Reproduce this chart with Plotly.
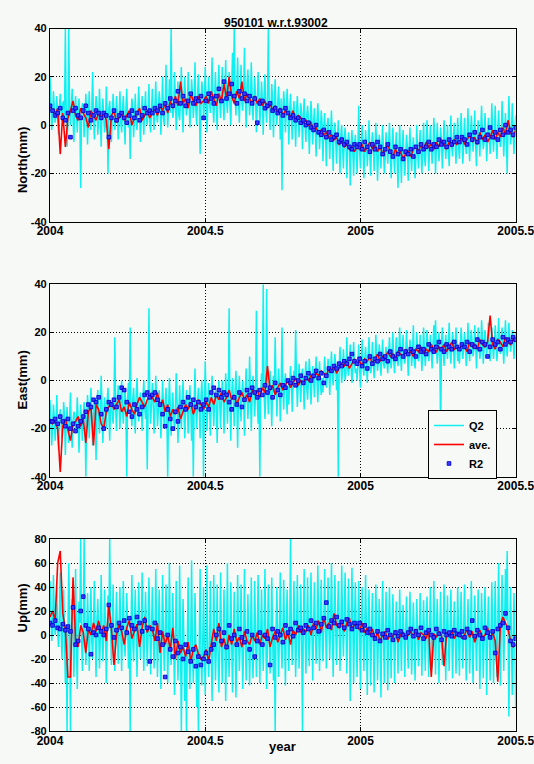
import numpy as np
import plotly.graph_objects as go

# ---------------------------------------------------------------------------
# GPS baseline components of station 950101 relative to 93002 (mm)
# Q2: quick-look solutions (two sub-daily sessions, "peak" and "mid" samples),
# ave.: running average, R2: final daily solutions
# ---------------------------------------------------------------------------
T_START, T_END = 2004.0, 2005.5

north_q2_peak = [
    20, -2, 14, 1, 12, -4, 13, 2, 10, 40, -9, 40, 0, 15, -7, 12, -3, 11, -26, 9,
    -5, 13, -8, 14, -2, 22, -6, 12, -4, 15, -9, 11, -3, 16, -20, 10, -7, 13, -2, 12,
    -6, 14, -3, 12, -8, 15, -1, -14, 11, -5, 13, -2, 16, -7, 12, -4, 14, 0, 17, -3,
    15, -2, 18, 1, 14, -4, 20, 0, 25, -1, 19, 40, 3, 22, -2, 18, 2, 24, -3, 20,
    4, 22, -1, 19, 3, 26, 0, 21, -12, 18, 2, 24, -3, 20, 5, 28, 1, 22, -2, 25,
    3, 24, 2, 27, 5, 22, 0, 30, 40, 4, 28, 1, 25, 6, 32, -1, 23, 4, 26, 2,
    20, -3, 22, 0, 18, -4, 21, 1, 40, -2, 17, -5, 19, 0, 16, -6, -27, 14, -3, 15,
    -8, 13, -6, 10, -9, 12, -5, 9, -10, 11, -7, 8, -12, 10, -8, 7, -13, 9, -10, 6,
    -15, 5, -17, 3, -14, 6, -19, 1, -16, 2, -20, 0, -18, -1, -22, -3, -25, -2, -21, -4,
    -20, 8, -18, 0, -22, -2, -17, 2, -21, -3, -19, 1, -23, -4, -18, 0, -20, -3, -16, 1,
    -22, -1, -20, -3, -26, 0, -24, -2, -21, -4, -23, -1, -19, -5, -22, 0, -18, -2, -20, 1,
    -17, 2, -19, 0, -16, 3, -20, 1, -15, -1, -18, 2, -14, 0, -17, 4, -13, 1, -16, 3,
    -14, 5, -16, 3, -12, 7, -15, 4, -11, 6, -17, 2, -13, 8, -10, 5, -15, 3, -12, 9,
    -11, 8, -14, 6, -9, 10, -13, 5, -20, 12, -8, 9, -12, 4,
]
north_q2_mid = [
    6, 3, 8, 4, 2, 7, 5, 9, 3, 6, 1, 5, 8, 2, 6, 4, 7, 3, 5, 8,
    2, 6, 4, 1, 7, 3, 5, 8, 2, 4, 6, 3, 0, 5, 7, 2, 4, 6, 3, 5,
    4, 1, 6, 3, 7, 2, 5, 4, 8, 3, 1, 5, 6, 2, 4, 7, 3, 5, 2, 6,
    5, 8, 4, 7, 9, 6, 3, 8, 10, 7, 5, 9, 6, 11, 8, 4, 10, 7, 12, 9,
    8, 11, 7, 13, 9, 6, 12, 10, 8, 14, 9, 11, 7, 10, 13, 8, 12, 9, 15, 10,
    12, 9, 14, 10, 13, 8, 15, 11, 12, 16, 10, 13, 9, 14, 11, 17, 12, 10, 13, 11,
    11, 9, 13, 8, 10, 12, 7, 11, 9, 6, 10, 8, 5, 9, 7, 11, 6, 8, 5, 7,
    6, 3, 5, 2, 6, 4, 1, 5, 3, 0, 4, 2, -1, 3, 1, -2, 2, 0, -3, 1,
    -2, -4, 0, -5, -3, -6, -2, -7, -5, -8, -4, -9, -6, -8, -10, -7, -9, -11, -8, -10,
    -9, -11, -7, -10, -12, -8, -10, -13, -9, -7, -11, -10, -12, -8, -9, -11, -13, -10, -8, -12,
    -10, -12, -9, -14, -11, -13, -10, -15, -12, -9, -11, -13, -10, -12, -14, -11, -9, -12, -10, -13,
    -9, -7, -10, -8, -11, -6, -9, -8, -10, -7, -9, -6, -8, -10, -7, -9, -5, -8, -6, -9,
    -7, -5, -8, -6, -4, -7, -5, -3, -6, -8, -4, -6, -2, -5, -7, -4, -6, -3, -5, -4,
    -3, -5, -2, -4, -6, -1, -3, -5, -2, 0, -4, -3, -1,
]
north_ave = [
    8, 6, 4, 7, -12, 5, -9, 3, 6, 10, 4, 2, 7, 5, 3, -1, 6, 4, 2, 5,
    3, 5, 2, -10, 4, 6, 1, 3, 5, 2, 4, 6, 0, 3, 5, 7, 2, 4, 6, 3,
    5, 7, 4, 8, 6, 9, 5, 10, 7, 12, 8, 18, 9, 11, 7, 13, 10, 8, 12, 9,
    10, 12, 9, 14, 11, 8, 13, 10, 17, 11, 20, 12, 9, 14, 11, 18, 10, 13, 11, 9,
    12, 9, 11, 8, 10, 7, 9, 6, 8, 5, 7, 4, 6, 5, 3, 6, 2, 4, 3, 1,
    2, 0, 1, -2, -1, -3, -2, -4, -3, -5, -4, -6, -5, -8, -7, -9, -8, -10, -9, -11,
    -9, -10, -8, -11, -9, -7, -10, -8, -11, -9, -12, -10, -8, -11, -13, -10, -12, -11, -14, -12,
    -11, -13, -10, -9, -11, -8, -10, -7, -9, -8, -10, -7, -9, -6, -8, -10, -7, -9, -6, -8,
    -7, -5, -8, -6, -4, -7, -5, -8, -3, -6, -4, -7, -5, -2, -6, -3, -5, -1, -4, 2,
    -3, -5, -2,
]
north_r2 = [
    8, 6, 4, 5, 7, 3, 2, 5, -5, 6, 7, 4, 3, 6, 8, 5, 2, 4, 6, 5,
    3, 5, 4, -5, 3, 6, 2, 4, 5, 3, 1, 4, 6, 3, 5, 2, 4, 7, 5, 6,
    5, 7, 6, 8, 5, 9, 7, 11, 8, 10, 14, 9, 12, 8, 10, 13, 9, 11, 10, 12,
    3, 10, 13, 11, 9, 12, 15, 10, 18, 11, 13, 17, 12, 9, 14, 11, 13, 10, 12, 9,
    11, 1, 9, 10, 7, 8, 9, 6, 7, 5, 6, 4, 7, 5, 3, 4, 2, 3, 1, 2,
    0, 1, -1, -2, 0, -3, -4, -2, -5, -3, -6, -5, -4, -7, -6, -8, -7, -9, -10, -8,
    -9, -8, -10, -7, -9, -11, -8, -10, -7, -9, -12, -10, -8, -11, -13, -9, -12, -10, -14, -11,
    -12, -10, -13, -9, -11, -8, -10, -9, -7, -10, -8, -9, -6, -8, -7, -9, -6, -8, -7, -5,
    -7, -5, -6, -8, -4, -6, -3, -7, -5, -2, -6, -4, -1, -5, -3, -6, -2, -4, 0, -3,
    -2, -4, -1,
]

east_q2_peak = [
    -8, -27, -10, -25, -6, -29, -12, -24, -9, -31, -11, -26, -5, -28, -13, -22, -7, -30, -10, -25,
    -9, -40, -6, -24, -3, -27, -8, -33, -4, -22, 2, -26, -7, -20, -3, -25, -9, -18, 18, -21,
    -2, -20, 0, -18, -4, -40, -1, 22, -19, -3, -22, 1, -17, -5, -21, 0, -16, -37, 30, -18,
    -1, -22, 2, -19, -4, -24, 0, -20, -3, -40, 1, -23, -5, -21, 3, -26, -2, -20, 0, -24,
    -4, -22, -2, -25, -40, 5, -20, -3, -24, 0, -40, 8, -21, -1, -23, 2, -19, -4, -26, 0,
    -20, 0, -22, 3, -18, 30, -25, 1, -19, 4, -28, 2, -17, 0, -23, 5, -16, 10, -21, 2,
    -15, 29, -18, -40, 3, 40, -16, 38, -14, 4, -19, 2, 18, -15, 5, -17, 22, -12, 3, -14,
    -10, 6, -13, 4, 21, -11, 7, -9, 5, -12, 8, -8, 9, -10, 6, -7, 10, -9, 8, -6,
    -5, 10, -3, 9, -6, 12, -2, 11, -4, -40, 14, -1, 13, 0, 18, 2, 15, -1, 16, 3,
    0, 15, -3, 17, 2, 14, -1, 18, 3, 16, 1, 19, 4, 15, 2, 17, 5, 14, 3, 18,
    5, 20, 3, 18, 6, 22, 4, 19, 7, 21, 2, 17, 6, 23, 5, 20, 8, 19, 4, 22,
    6, 21, 8, 19, 5, 23, 25, 7, 20, -23, 22, 6, 19, 9, 24, 7, 20, 5, 22, 8,
    7, 22, 9, 20, 6, 24, 8, 21, 10, 23, 5, 22, 9, 25, 7, 21, 11, 24, 8, 22,
    9, 23, 8, 26, 11, 22, 7, 25, 10, 24, 12, 21, 9, 20,
]
east_q2_mid = [
    -16, -19, -15, -18, -20, -16, -17, -21, -15, -18, -19, -16, -20, -17, -14, -18, -16, -19, -17, -15,
    -14, -17, -13, -15, -12, -16, -14, -11, -15, -13, -10, -14, -12, -9, -13, -11, -14, -10, -12, -9,
    -11, -8, -12, -9, -13, -7, -10, -12, -8, -11, -6, -9, -12, -10, -7, -11, -9, -13, -8, -10,
    -9, -12, -8, -13, -10, -14, -11, -9, -15, -12, -10, -13, -16, -11, -9, -14, -12, -10, -13, -11,
    -11, -9, -12, -8, -10, -13, -9, -11, -7, -10, -12, -8, -11, -9, -6, -10, -8, -11, -7, -9,
    -8, -6, -9, -5, -8, -10, -6, -7, -4, -8, -6, -9, -5, -7, -3, -6, -8, -5, -7, -4,
    -5, -7, -4, -6, -3, -5, -7, -2, -4, -6, -3, -5, -1, -4, -2, -5, -3, -1, -4, -2,
    -2, 0, -3, -1, 1, -2, 0, 2, -1, 1, -3, 0, 2, -1, 1, 3, 0, 2, -1, 1,
    2, 4, 1, 3, 5, 2, 4, 6, 3, 5, 7, 4, 6, 3, 5, 8, 6, 4, 7, 5,
    7, 5, 8, 6, 9, 7, 10, 8, 6, 9, 7, 10, 8, 11, 9, 7, 10, 8, 11, 9,
    10, 8, 11, 9, 12, 10, 13, 9, 11, 12, 10, 13, 11, 9, 12, 14, 10, 12, 11, 13,
    12, 14, 11, 13, 15, 12, 14, 11, 13, 16, 12, 14, 13, 15, 12, 14, 16, 13, 15, 12,
    14, 16, 13, 15, 12, 14, 17, 15, 13, 16, 14, 15, 13, 17, 14, 16, 15, 13, 16, 14,
    15, 17, 14, 16, 18, 15, 17, 14, 16, 18, 15, 17, 16,
]
east_ave = [
    -16, -18, -17, -20, -38, -19, -16, -21, -25, -18, -17, -15, -19, -16, -26, -13, -11, -27, -10, -12,
    -18, -20, -13, -11, -9, -12, -10, -8, -13, -11, -15, -9, -12, -14, -10, -7, -9, -11, -8, -6,
    -7, -9, -5, -11, -8, -13, -10, -15, -12, -14, -11, -16, -13, -10, -12, -9, -14, -11, -8, -10,
    -12, -9, -11, -7, -10, -6, -8, -5, -9, -7, -4, -8, -6, -10, -7, -5, -8, -6, -9, -4,
    -6, -4, -7, -3, -5, 6, -4, -2, -6, -3, -1, -4, -2, 0, -3, -1, 1, -2, 0, -1,
    1, 0, 2, 1, 3, 2, 4, 3, 2, 5, 4, 6, 3, 5, 7, 6, 8, 5, 7, 9,
    7, 8, 6, 9, 8, 10, 7, 9, 11, 8, 10, 9, 12, 10, 11, 9, 12, 11, 10, 13,
    11, 12, 10, 13, 12, 14, 11, 13, 12, 15, 13, 12, 14, 13, 15, 12, 14, 16, 13, 14,
    13, 15, 14, 12, 16, 14, 15, 13, 17, 15, 14, 16, 27, 15, 13, 17, 16, 14, 18, 16,
    15, 17, 16,
]
east_r2 = [
    -17, -17, -16, -18, -15, -17, -19, -16, -20, -18, -21, -19, -17, -15, -13, -10, -11, -8, -9, -7,
    -14, -20, -12, -9, -10, -8, -11, -7, -3, -4, -9, -13, -15, -10, -12, -14, -11, -6, -5, -7,
    -6, -5, -8, -10, -14, -19, -12, -16, -20, -13, -17, -11, -9, -12, -7, -10, -8, -11, -9, -12,
    -10, -8, -12, -5, -3, -6, -4, -7, -5, -6, -9, -12, -7, -10, -5, -11, -8, -4, -6, -3,
    -5, -7, -4, -6, -2, -5, -3, -7, -1, -4, -6, -2, -3, 0, -1, 1, -2, 0, 2, -1,
    1, 3, 0, 2, 4, 1, 3, -1, 2, 5, 4, 6, 5, 7, 6, 8, 7, 9, 11, 8,
    7, 9, 6, 8, 5, 10, 7, 9, 8, 11, 9, 10, 8, 12, 10, 9, 11, 13, 10, 12,
    11, 13, 12, 10, 14, 12, 13, 11, 15, 13, 12, 14, 16, 13, 12, 15, 14, 13, 16, 14,
    13, 15, 14, 16, 12, 15, 14, 17, 13, 16, 15, 10, 14, 17, 15, 16, 13, 18, 15, 17,
    16, 18, 17,
]

up_q2_peak = [
    45, -5, 50, 0, 40, -10, 52, -20, 38, -40, -80, 60, -80, 30, -35, 55, -45, 28, 80, -30,
    80, -25, 35, -30, 40, -20, 45, -35, 30, -28, 50, -22, 38, -40, 33, 80, -25, 42, -30, 36,
    -24, 40, -30, 45, -18, 35, -28, -80, 50, -22, 38, -35, 44, -20, 52, -30, 36, -26, 48, -33,
    40, -28, 55, -35, 38, -45, 50, -30, 42, -40, 60, -25, 35, -50, 45, -38, 58, -80, 30, -55,
    -80, 48, -45, 62, -40, 35, -60, -80, 55, -42, 40, -50, 58, -35, 45, -55, 50, -38, 42, -48,
    52, -40, 38, -55, 60, -35, 44, -48, 36, -52, 50, -30, 42, -45, 55, -38, 34, -42, 48, -36,
    45, -35, 50, -40, 38, -30, 55, -45, 42, -32, 48, -38, -80, 40, -35, 52, -28, 46, -42, 38,
    -30, 80, -25, 45, -35, 50, -28, 42, -80, 55, -32, 48, -26, 52, -38, 44, -24, 58, -30, 46,
    -22, 55, -28, 48, -20, 60, -35, 50, -25, 45, -30, 58, -18, 52, -32, 47, -55, 56, -40, 44,
    -35, 45, -45, 40, -30, 50, -50, 38, -42, 35, -48, 42, -38, 30, -52, 45, -40, 36, -46, 40,
    -36, 34, -40, 28, -32, 38, -30, 25, -35, 32, -28, 36, -33, 27, -38, 30, -26, 35, -34, 29,
    -30, 32, -35, 40, -28, 45, -33, 30, -40, 36, -25, 42, -38, 33, -30, 38, -36, 28, -32, 40,
    -34, 36, -28, 42, -38, 30, -32, 45, -40, 33, -30, 38, -45, 35, -36, 40, -50, 32, -38, 44,
    -40, 45, -35, 60, -42, 50, -30, 55, 70, -68, 40, -50, 35, -60,
]
up_q2_mid = [
    12, 5, 18, 8, 2, 15, 6, 10, -2, 8, 0, 12, -5, 6, 3, -8, 5, 10, -3, 4,
    6, -2, 10, 3, -5, 8, 0, 12, 4, -3, 7, 1, 10, -4, 5, 9, 2, -6, 6, 3,
    8, 2, 12, -1, 6, 10, 3, 7, -4, 9, 5, 1, 11, 4, -2, 8, 6, 0, 10, 3,
    2, -4, 5, -1, 3, -6, 0, -3, 4, -8, -2, 1, -7, -4, 2, -9, -5, -10, -3, -12,
    -8, -14, -6, -11, -15, -9, -12, -5, -16, -10, -13, -7, -11, -14, -8, -12, -6, -10, -15, -9,
    -4, -8, -2, -7, -10, -3, -6, -1, -9, -5, -2, -8, -4, -7, 0, -6, -3, -9, -1, -5,
    -2, 1, -5, 0, -3, 3, -1, -6, 2, -4, 0, -2, 4, -3, 1, -5, 2, -1, 3, 0,
    2, 5, 0, 4, -2, 6, 3, 1, 7, 2, 5, -1, 4, 8, 3, 6, 1, 5, 9, 4,
    6, 10, 8, 4, 11, 7, 9, 5, 12, 8, 6, 10, 13, 7, 9, 11, 6, 10, 8, 5,
    6, 3, 8, 1, 5, 2, 7, -1, 4, 0, 3, 6, -2, 2, 5, -1, 3, 0, 4, 1,
    0, 3, -2, 2, -4, 1, 4, -1, 2, -3, 0, 3, -2, 1, -4, 2, 0, -1, 3, -2,
    1, -2, 3, 0, -3, 2, 4, -1, 1, -4, 2, 0, 3, -2, 1, 4, -1, 2, -3, 0,
    2, -1, 3, 0, -2, 4, 1, -3, 2, 5, 0, -2, 3, 1, -4, 2, 4, 0, -1, 3,
    4, 1, 6, 3, 8, 5, 10, 12, 6, 2, -3, -6, -8,
]
up_ave = [
    15, 20, 12, 60, 70, 18, 5, -35, -35, 48, -5, -10, 8, 2, -15, 5, 0, 10, 3, 12,
    2, 8, -5, 25, 5, -25, 0, 10, 3, -8, 6, 12, -3, 4, 9, -10, 6, 15, 2, 8,
    5, -5, 10, -15, 3, -8, 0, -12, 6, -20, -5, -15, -10, -18, -6, -22, -12, -8, -16, -20,
    -18, -12, -22, -8, 5, -5, 10, -10, -3, -12, 0, -8, 5, -6, -2, -10, 3, -5, -8, 0,
    -5, 2, -8, 0, -3, 5, -10, -2, 3, -6, 0, 6, -4, 2, -8, 4, 0, 8, 2, 5,
    3, 8, 0, 10, 5, 12, 2, 15, 6, 10, 4, 18, 8, 6, 12, 3, 10, 14, 5, 9,
    8, 4, 10, 2, 6, 0, 5, -3, 2, -5, 0, 3, -4, 1, -2, 4, -6, 0, 2, -3,
    0, 3, -2, 5, -4, 2, 0, -3, 4, -35, 1, -2, 3, 0, -26, 2, -1, 4, -3, 1,
    2, -3, 0, 5, -2, 3, -6, 1, 4, -2, 0, 6, -3, 2, -5, -39, 8, 15, 10, 5,
    -5, -10, -8,
]
up_r2 = [
    10, 8, 12, 6, 5, 9, 4, 7, 3, 23, -8, -5, 20, 32, 8, 5, -16, 2, 0, 6,
    3, 0, 5, 25, 8, -2, 4, 10, 6, 12, 2, 14, 8, 5, 15, 10, 3, 12, 6, -22,
    5, 10, -3, 2, -8, -35, 0, -12, -18, -5, -15, -10, -20, -8, -14, -22, -12, -26, -18, -25,
    -20, -15, -22, -12, -8, 0, 5, -5, 2, -10, 8, -3, 0, -8, 5, -2, -6, 3, -12, 0,
    -18, -5, 2, -8, 0, -3, -25, 5, -2, 3, 0, -6, 8, 2, 5, -1, 10, 4, 6, 2,
    8, 5, 12, 6, 10, 3, 9, 14, 27, 7, 12, 10, 15, 8, 11, 6, 13, 9, 5, 10,
    7, 10, 4, 8, 2, 5, 0, -3, 3, -5, 1, -2, 4, 0, -4, 2, -1, 3, 0, -2,
    2, 5, -1, 3, 0, 6, -3, 2, 4, 0, -2, 5, 1, -4, 3, 0, 2, -1, 4, 1,
    0, 3, -2, 5, 2, 12, -1, 4, 0, -3, 6, 2, -2, 3, -15, 5, 8, 10, 18, 6,
    -5, -8, -3,
]

panel_titles = ["North(mm)", "East(mm)", "Up(mm)"]
panel_ranges = [(-40, 40), (-40, 40), (-80, 80)]
panel_yticks = [
    [-40, -20, 0, 20, 40],
    [-40, -20, 0, 20, 40],
    [-80, -60, -40, -20, 0, 20, 40, 60, 80],
]
x_ticks = [2004, 2004.5, 2005, 2005.5]
x_ticklabels = ["2004", "2004.5", "2005", "2005.5"]


def merge_sessions(peak, mid):
    """Merge the two Q2 session streams into one time-ordered series."""
    out = []
    for k in range(max(len(peak), len(mid))):
        if k < len(peak):
            out.append(peak[k])
        if k < len(mid):
            out.append(mid[k])
    return out


series = [
    (merge_sessions(north_q2_peak, north_q2_mid), north_ave, north_r2),
    (merge_sessions(east_q2_peak, east_q2_mid), east_ave, east_r2),
    (merge_sessions(up_q2_peak, up_q2_mid), up_ave, up_r2),
]

# ---------------------------------------------------------------------------
W, H = 534, 764
BG = "#f6f9f6"
FONT = "Liberation Sans"
LEFT, RIGHT = 50, 515.7
panel_px = [(28.5, 221.7), (284.3, 476.7), (539, 731)]   # top, bottom in px

fig = go.Figure()
layout = dict(
    width=W, height=H,
    margin=dict(l=0, r=0, t=0, b=0),
    paper_bgcolor=BG, plot_bgcolor=BG,
    font=dict(family=FONT, size=12, color="black", weight="bold"),
    showlegend=True,
)

for i, ((q2, ave, r2), title, yr, yt) in enumerate(
        zip(series, panel_titles, panel_ranges, panel_yticks)):
    n = i + 1
    xref = "x" if n == 1 else f"x{n}"
    yref = "y" if n == 1 else f"y{n}"
    show = (n == 2)

    t_q2 = np.linspace(T_START, T_END, len(q2))
    t_ave = np.linspace(T_START, T_END, len(ave))
    t_r2 = np.linspace(T_START, T_END, len(r2))

    fig.add_trace(go.Scatter(
        x=t_q2, y=q2, mode="lines", name="Q2", xaxis=xref, yaxis=yref,
        line=dict(color="#10f0f0", width=1.5), showlegend=show,
        legendrank=1))
    fig.add_trace(go.Scatter(
        x=t_ave, y=ave, mode="lines", name="ave.", xaxis=xref, yaxis=yref,
        line=dict(color="#ff0000", width=1.6), showlegend=show,
        legendrank=2))
    fig.add_trace(go.Scatter(
        x=t_r2, y=r2, mode="markers", name="R2", xaxis=xref, yaxis=yref,
        marker=dict(symbol="square", size=3.6, color="#3a3aff",
                    line=dict(width=0.9, color="#0000d0")),
        showlegend=show, legendrank=3))

    top, bot = panel_px[i]
    axis_common = dict(
        showline=True, linecolor="black", linewidth=1.3, mirror="ticks",
        ticks="inside", ticklen=4, tickcolor="black", tickwidth=1,
        showgrid=True, gridcolor="black", gridwidth=1, griddash="1px,2px",
        zeroline=False, automargin=False,
    )
    layout["xaxis" if n == 1 else f"xaxis{n}"] = dict(
        axis_common, domain=[LEFT / W, RIGHT / W], range=[T_START, T_END],
        anchor=yref, tickvals=x_ticks, ticktext=x_ticklabels,
        ticklabelstandoff=-2, ticklabeloverflow="allow",
        tickfont=dict(family=FONT, size=12, color="black", weight="bold"),
    )
    layout["yaxis" if n == 1 else f"yaxis{n}"] = dict(
        axis_common, domain=[1 - bot / H, 1 - top / H], range=list(yr),
        anchor=xref, tickvals=yt, ticktext=[str(v) for v in yt],
        ticklabeloverflow="allow",
        tickfont=dict(family=FONT, size=11, color="black", weight="bold"),
    )

annotations = [
    dict(text="950101 w.r.t.93002", x=276 / W, y=1 - 14 / H,
         xref="paper", yref="paper", showarrow=False,
         font=dict(family=FONT, size=12, weight="bold")),
    dict(text="year", x=282 / W, y=1 - 756 / H,
         xref="paper", yref="paper", showarrow=False,
         font=dict(family=FONT, size=13, weight="bold")),
]
for title, (top, bot) in zip(panel_titles, panel_px):
    annotations.append(dict(
        text=title, x=12.5 / W, y=1 - (top + bot) / 2 / H,
        xref="paper", yref="paper", showarrow=False, textangle=-90,
        font=dict(family=FONT, size=13, weight="bold")))
layout["annotations"] = annotations

layout["legend"] = dict(
    x=428 / W, y=1 - 410 / H, xanchor="left", yanchor="top",
    bgcolor=BG, bordercolor="black", borderwidth=1,
    font=dict(family=FONT, size=11, color="black", weight="bold"),
    itemwidth=30, tracegroupgap=0,
)

fig.update_layout(**layout)
fig.write_html("out.html")
